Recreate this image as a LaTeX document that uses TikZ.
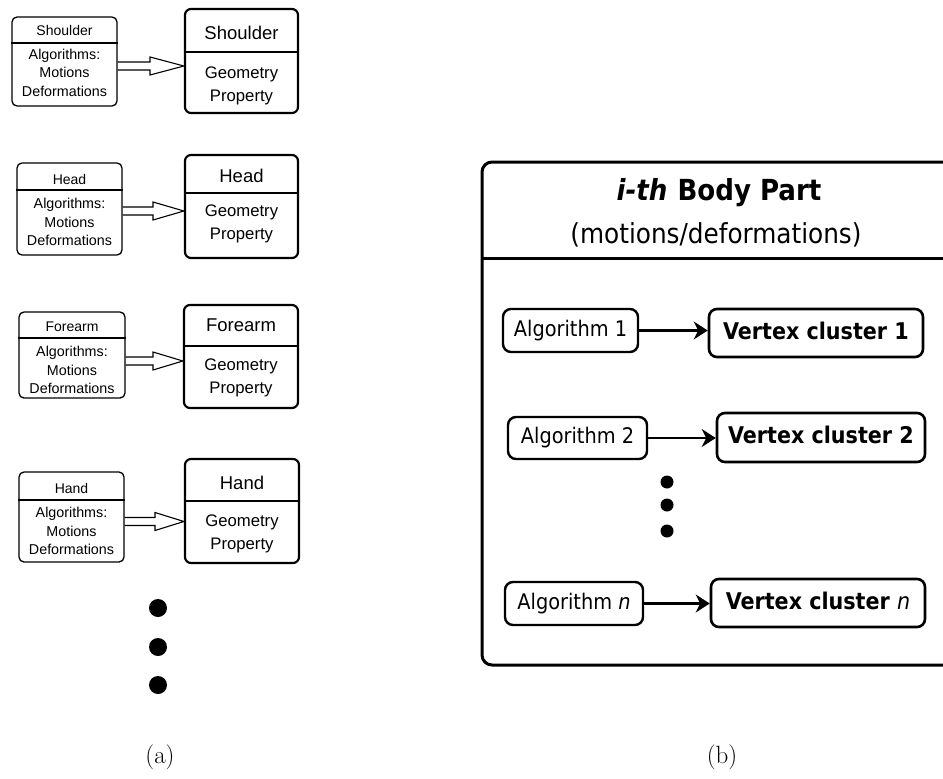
\documentclass[tikz,border=0pt]{standalone}
\usepackage{fontspec}
\newfontfamily\arialfont{Liberation Sans}
\newfontfamily\panelfont{DejaVu Sans Condensed}
\usetikzlibrary{arrows.meta,calc}

% open block arrow between a part box and its geometry box
% #1 source node, #2 target node, #3 centre y (downwards), #4 x where the head starts
\newcommand\hollowarrow[4]{%
  \draw[blockarrow] (#1.east |- 0,-#3+4) -- (#4,-#3+4) -- (#4,-#3+9)
    -- (#2.west |- 0,-#3) -- (#4,-#3-9) -- (#4,-#3-4) -- (#1.east |- 0,-#3-4);
}

\begin{document}
\begin{tikzpicture}[x=1pt,y=1pt,
  partbox/.style={draw, line width=1.3pt, rounded corners=5pt, inner sep=0pt},
  geombox/.style={draw, line width=2.2pt, rounded corners=6pt, inner sep=0pt},
  partrule/.style={line width=1.3pt},
  geomrule/.style={line width=1.8pt},
  parthead/.style={inner sep=0pt, font=\arialfont\fontsize{14}{18}\selectfont},
  partbody/.style={inner sep=0pt, align=center, font=\arialfont\fontsize{14.3}{18.5}\selectfont},
  geomhead/.style={inner sep=0pt, font=\arialfont\fontsize{18.5}{22}\selectfont},
  geombody/.style={inner sep=0pt, align=center, font=\arialfont\fontsize{16.7}{23}\selectfont},
  blockarrow/.style={line width=1.1pt, line join=miter},
  algbox/.style={draw, line width=2.4pt, rounded corners=8pt, inner sep=0pt,
    text height=15.5pt, text depth=4.5pt, font=\panelfont\fontsize{21.5}{25}\selectfont},
  clusterbox/.style={draw, line width=2.6pt, rounded corners=8pt, inner sep=0pt,
    text height=16.5pt, text depth=4.5pt, font=\panelfont\bfseries\fontsize{23}{27}\selectfont},
  flow/.style={line width=2.4pt, -{Stealth[length=14pt, width=18pt]}},
  panelrule/.style={line width=3pt},
  caption/.style={inner sep=0pt, font=\fontsize{25}{30}\selectfont},
]
\useasboundingbox (0,0) rectangle (943,-779);
\begin{scope}
\clip (0,0) rectangle (943,-779);

% ---------------- (a) body parts ----------------
% Shoulder
\node[partbox, minimum width=105, minimum height=89] (s1) at (64.5,-61.5) {};
\draw[partrule] (s1.west |- 0,-43) -- (s1.east |- 0,-43);
\node[parthead] (s1h) at (64.5,-30.5) {Shoulder};
\node[partbody] (s1b) at (64.5,-72.5) {Algorithms:\\Motions\\Deformations};
\node[geombox, minimum width=113, minimum height=104] (g1) at (241.5,-61) {};
\draw[geomrule] (g1.west |- 0,-52) -- (g1.east |- 0,-52);
\node[geomhead] (g1h) at (241.5,-33) {Shoulder};
\node[geombody] (g1b) at (241.5,-85.5) {Geometry\\Property};
\hollowarrow{s1}{g1}{66}{150}

% Head
\node[partbox, minimum width=105, minimum height=92] (s2) at (69.5,-209) {};
\draw[partrule] (s2.west |- 0,-190) -- (s2.east |- 0,-190);
\node[parthead] (s2h) at (69.5,-179) {Head};
\node[partbody] (s2b) at (69.5,-222) {Algorithms:\\Motions\\Deformations};
\node[geombox, minimum width=113, minimum height=103] (g2) at (241.5,-206.5) {};
\draw[geomrule] (g2.west |- 0,-193) -- (g2.east |- 0,-193);
\node[geomhead] (g2h) at (241.5,-176) {Head};
\node[geombody] (g2b) at (241.5,-224) {Geometry\\Property};
\hollowarrow{s2}{g2}{211}{153}

% Forearm
\node[partbox, minimum width=106, minimum height=86] (s3) at (72,-355) {};
\draw[partrule] (s3.west |- 0,-338) -- (s3.east |- 0,-338);
\node[parthead] (s3h) at (72,-327) {Forearm};
\node[partbody] (s3b) at (72,-370) {Algorithms:\\Motions\\Deformations};
\node[geombox, minimum width=114, minimum height=103] (g3) at (241,-356.5) {};
\draw[geomrule] (g3.west |- 0,-346) -- (g3.east |- 0,-346);
\node[geomhead] (g3h) at (241,-325) {Forearm};
\node[geombody] (g3b) at (241,-378) {Geometry\\Property};
\hollowarrow{s3}{g3}{361}{153}

% Hand
\node[partbox, minimum width=105, minimum height=90] (s4) at (71.5,-517) {};
\draw[partrule] (s4.west |- 0,-500) -- (s4.east |- 0,-500);
\node[parthead] (s4h) at (71.5,-488) {Hand};
\node[partbody] (s4b) at (71.5,-531) {Algorithms:\\Motions\\Deformations};
\node[geombox, minimum width=114, minimum height=104] (g4) at (242,-511) {};
\draw[geomrule] (g4.west |- 0,-501) -- (g4.east |- 0,-501);
\node[geomhead] (g4h) at (242,-483) {Hand};
\node[geombody] (g4b) at (242,-534) {Geometry\\Property};
\hollowarrow{s4}{g4}{521.5}{155}

% continuation dots
\fill (158,-608) circle (9);
\fill (158,-647) circle (9);
\fill (158,-685) circle (9);

% ---------------- (b) one body part ----------------
\draw[panelrule, rounded corners=10pt] (482,-162) rectangle (965,-665);
\draw[panelrule] (482,-258) -- (965,-258);
\node[inner sep=0pt, font=\panelfont\bfseries\fontsize{29}{33}\selectfont] (title) at (719,-193)
  {{\itshape i-th}\hspace{0.35em}Body Part};
\node[inner sep=0pt, font=\panelfont\fontsize{27.5}{32}\selectfont] (subtitle) at (716,-235)
  {(motions/deformations)};

\node[algbox, minimum width=135, minimum height=43] (a1) at (570.5,-330.5) {Algorithm 1};
\node[clusterbox, minimum width=214, minimum height=48] (v1) at (816,-333) {Vertex cluster 1};
\draw[flow] (a1.east) -- (a1.east -| v1.west);

\node[algbox, minimum width=139, minimum height=42] (a2) at (577.5,-438) {Algorithm 2};
\node[clusterbox, minimum width=208, minimum height=49] (v2) at (821,-437.5) {Vertex cluster 2};
\draw[flow] (a2.east) -- (a2.east -| v2.west);

\fill (667,-482) circle (6.5);
\fill (667,-505) circle (6.5);
\fill (667,-531) circle (6.5);

\node[algbox, minimum width=138, minimum height=43] (an) at (574,-603.5) {Algorithm \textit{n}};
\node[clusterbox, minimum width=214, minimum height=48] (vn) at (818,-603) {Vertex cluster \textit{\mdseries n}};
\draw[flow] (an.east) -- (an.east -| vn.west);

% captions
\node[caption] (capa) at (160,-757) {(a)};
\node[caption] (capb) at (722,-757) {(b)};
\end{scope}
\end{tikzpicture}
\end{document}
